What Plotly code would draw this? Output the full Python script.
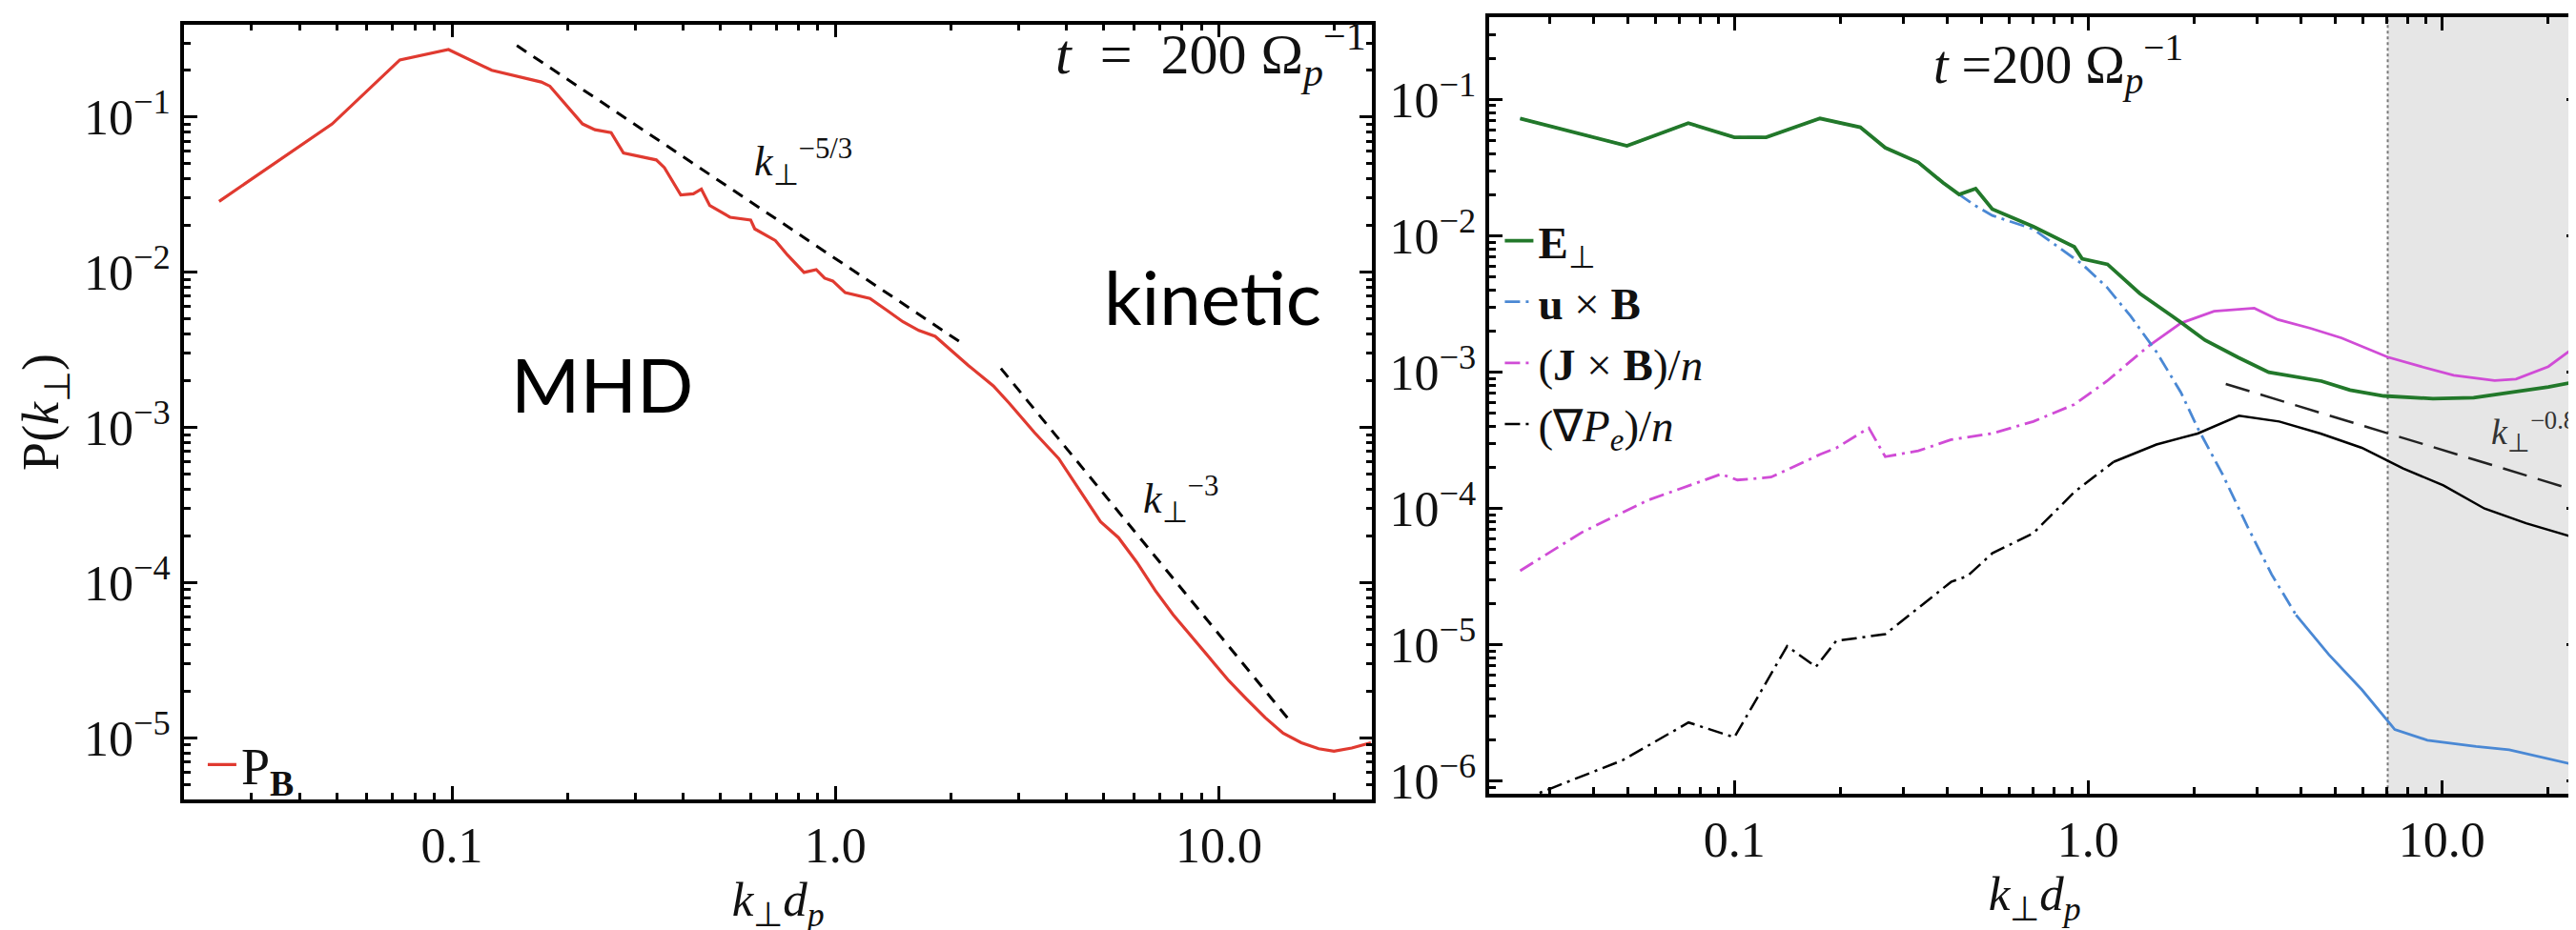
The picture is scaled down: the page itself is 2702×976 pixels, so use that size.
import math
import plotly.graph_objects as go

W, H = 2702, 976

# ---------------- Left panel data ----------------
k_pb = [0.0247, 0.0487, 0.0731, 0.0979, 0.127, 0.171, 0.180, 0.219, 0.236, 0.260, 0.280,
        0.341, 0.358, 0.395, 0.426, 0.447, 0.470, 0.531, 0.601, 0.616, 0.697, 0.750, 0.828,
        0.891, 0.937, 0.984, 1.06, 1.23, 1.36, 1.50, 1.65, 1.82, 2.01, 2.22, 2.58, 2.84,
        3.30, 3.82, 4.91, 5.47, 6.11, 6.82, 7.60, 8.49, 9.47, 10.6, 11.8, 13.2, 14.7,
        16.4, 18.2, 19.95, 22.2, 24.9]
p_pb = [2.86e-2, 9.02e-2, 0.233, 0.272, 0.200, 0.168, 0.158, 9.02e-2, 8.28e-2, 7.93e-2, 5.86e-2,
        5.29e-2, 4.72e-2, 3.15e-2, 3.20e-2, 3.43e-2, 2.69e-2, 2.26e-2, 2.17e-2, 1.90e-2, 1.60e-2,
        1.29e-2, 9.97e-3, 1.04e-2, 9.15e-3, 8.77e-3, 7.38e-3, 6.77e-3, 5.69e-3, 4.79e-3, 4.21e-3,
        3.86e-3, 3.11e-3, 2.51e-3, 1.85e-3, 1.43e-3, 9.29e-4, 6.30e-4, 2.47e-4, 1.95e-4, 1.35e-4,
        8.9e-5, 6.2e-5, 4.47e-5, 3.23e-5, 2.34e-5, 1.78e-5, 1.35e-5, 1.07e-5, 9.3e-6, 8.5e-6,
        8.2e-6, 8.6e-6, 9.3e-6]

k_fit53 = [0.1476, 2.17]
p_fit53 = [0.289, 3.4e-3]
k_fit3 = [2.70, 15.3]
p_fit3 = [2.40e-3, 1.29e-5]

# ---------------- Right panel data ----------------
k_E = [0.0248, 0.0497, 0.0741, 0.100, 0.123, 0.1746, 0.227, 0.267, 0.331, 0.389, 0.432, 0.481,
       0.536, 0.700, 0.914, 0.962, 1.135, 1.40, 1.74, 2.14, 2.66, 3.24, 4.57, 5.5, 6.85, 9.44,
       12.3, 16.2, 20.0, 24.4]
p_E = [0.0726, 0.0457, 0.0670, 0.0528, 0.0528, 0.0726, 0.0625, 0.0443, 0.0346, 0.0245, 0.0201,
       0.0222, 0.0157, 0.0117, 0.0083, 0.0068, 0.00618, 0.00378, 0.00255, 0.00172, 0.00128,
       0.00100, 8.6e-4, 7.4e-4, 6.7e-4, 6.4e-4, 6.5e-4, 7.2e-4, 7.8e-4, 8.6e-4]

k_uB = [0.0248, 0.0497, 0.0741, 0.100, 0.123, 0.1746, 0.227, 0.267, 0.331, 0.389, 0.432, 0.481,
        0.536, 0.700, 0.962, 1.13, 1.32, 1.56, 1.83, 2.04, 2.40, 2.82, 3.30, 3.87, 4.79, 5.94,
        7.36, 9.1, 12.5, 15.5, 19.1, 24.4]
p_uB = [0.0726, 0.0457, 0.0670, 0.0528, 0.0528, 0.0726, 0.0625, 0.0443, 0.0346, 0.0245, 0.0201,
        0.0166, 0.0141, 0.0112, 0.0062, 0.0042, 0.00257, 0.00141, 7.1e-4, 3.9e-4, 1.78e-4, 7.4e-5,
        3.3e-5, 1.66e-5, 8.5e-6, 4.7e-6, 2.4e-6, 2.0e-6, 1.8e-6, 1.7e-6, 1.5e-6, 1.3e-6]

k_JB = [0.0248, 0.0371, 0.0569, 0.0918, 0.102, 0.127, 0.175, 0.194, 0.240, 0.267, 0.331, 0.410,
        0.536, 0.700, 0.914, 1.13, 1.48, 1.83, 2.27, 2.95, 3.44, 4.25, 5.21, 7.03, 8.73, 10.8,
        14.1, 16.2, 20.0, 24.5]
p_JB = [3.5e-5, 6.7e-5, 1.15e-4, 1.79e-4, 1.62e-4, 1.70e-4, 2.5e-4, 2.78e-4, 3.9e-4, 2.4e-4,
        2.65e-4, 3.2e-4, 3.56e-4, 4.35e-4, 5.8e-4, 8.6e-4, 1.55e-3, 2.29e-3, 2.8e-3, 2.95e-3,
        2.43e-3, 2.1e-3, 1.78e-3, 1.29e-3, 1.10e-3, 9.5e-4, 8.7e-4, 8.9e-4, 1.1e-3, 1.62e-3]

k_Pe = [0.0248, 0.0284, 0.0484, 0.0742, 0.100, 0.141, 0.170, 0.194, 0.267, 0.331, 0.410, 0.456,
        0.536, 0.700, 0.914, 1.18, 1.56, 2.04, 2.67, 3.47, 4.54, 5.94, 7.77, 10.1, 13.2, 17.3, 24.4]
p_Pe = [7.2e-7, 8.3e-7, 1.43e-6, 2.7e-6, 2.1e-6, 9.8e-6, 6.9e-6, 1.07e-5, 1.2e-5, 1.86e-5, 2.9e-5,
        3.2e-5, 4.7e-5, 6.6e-5, 1.32e-4, 2.2e-4, 2.95e-4, 3.55e-4, 4.8e-4, 4.35e-4, 3.55e-4,
        2.79e-4, 1.97e-4, 1.48e-4, 1.0e-4, 7.8e-5, 6.0e-5]

k_fit08 = [2.45, 24.5]
p_fit08 = [8.2e-4, 1.33e-4]

k_kinetic_edge = 7.03

x_ticks = [0.1, 1.0, 10.0]
x_ticktext = ["0.1", "1.0", "10.0"]
y_ticks_left = [1e-1, 1e-2, 1e-3, 1e-4, 1e-5]
y_ticks_right = [1e-1, 1e-2, 1e-3, 1e-4, 1e-5, 1e-6]

SERIF = "Liberation Serif"
SANS = "Lato"


def split(k, p, kcut):
    i = max(j for j, v in enumerate(k) if v <= kcut)
    return (k[:i + 1], p[:i + 1]), (k[i:], p[i:])


fig = go.Figure()

# Left panel
fig.add_trace(go.Scatter(x=k_pb, y=p_pb, mode="lines", name="P<sub><b>B</b></sub>",
                         line=dict(color="#e03a30", width=3.2), xaxis="x", yaxis="y",
                         legend="legend"))
fig.add_trace(go.Scatter(x=k_fit53, y=p_fit53, mode="lines", showlegend=False,
                         line=dict(color="black", width=3, dash="12px,9px"), xaxis="x", yaxis="y"))
fig.add_trace(go.Scatter(x=k_fit3, y=p_fit3, mode="lines", showlegend=False,
                         line=dict(color="black", width=3, dash="12px,9px"), xaxis="x", yaxis="y"))

# Right panel
fig.add_trace(go.Scatter(x=k_fit08, y=p_fit08, mode="lines", showlegend=False,
                         line=dict(color="#222222", width=2.5, dash="26px,12px"),
                         xaxis="x2", yaxis="y2"))

dd = "16px,6px,3px,6px"
specs = [
    (k_Pe, p_Pe, 1.18, "black", "(∇<i>P<sub>e</sub></i>)/<i>n</i>", 2.5, 4),
    (k_JB, p_JB, 1.48, "#d04cd6", "(<b>J</b> × <b>B</b>)/<i>n</i>", 2.8, 3),
    (k_uB, p_uB, 3.87, "#4a88d4", "<b>u</b> × <b>B</b>", 2.8, 2),
]
for k, p, kc, col, nm, lw, rank in specs:
    (k1, p1), (k2, p2) = split(k, p, kc)
    fig.add_trace(go.Scatter(x=k1, y=p1, mode="lines", name=nm, legend="legend2",
                             legendrank=rank,
                             line=dict(color=col, width=lw, dash=dd), xaxis="x2", yaxis="y2"))
    fig.add_trace(go.Scatter(x=k2, y=p2, mode="lines", showlegend=False,
                             line=dict(color=col, width=lw), xaxis="x2", yaxis="y2"))

fig.add_trace(go.Scatter(x=k_E, y=p_E, mode="lines", name="<b>E</b><sub>⊥</sub>",
                         legend="legend2", legendrank=1,
                         line=dict(color="#22782a", width=3.8), xaxis="x2", yaxis="y2"))


def sup_labels(vals):
    return ["10<sup>−%d</sup>" % round(-math.log10(v)) for v in vals]


def minor_vals(lo, hi):
    out = []
    for e in range(lo, hi + 1):
        for m in range(2, 10):
            out.append(m * 10.0 ** e)
    return out


axis_common = dict(type="log", showline=True, linecolor="black", linewidth=3.5, mirror="allticks",
                   ticks="inside", tickcolor="black", tickwidth=3, ticklen=14, showgrid=False,
                   zeroline=False, tickfont=dict(family=SERIF, size=52, color="#111"))
minor_common = dict(ticks="inside", ticklen=7, tickwidth=2.5, tickcolor="black")
title_font = dict(family=SERIF, size=51, color="#111")
x_title = "<i>k</i><sub>⊥</sub><i>d</i><sub><i>p</i></sub>"

fig.update_layout(
    width=W, height=H, margin=dict(l=0, r=0, t=0, b=0),
    paper_bgcolor="white", plot_bgcolor="white",
    xaxis=dict(axis_common, domain=[185 / W, 1432 / W], range=[-1.699, 1.400],
               tickvals=x_ticks, ticktext=x_ticktext,
               minor=dict(minor_common, tickvals=minor_vals(-2, 1)),
               title=dict(text=x_title, font=title_font, standoff=2), anchor="y"),
    yaxis=dict(axis_common, domain=[1 - 845 / H, 1 - 18 / H], range=[-5.398, -0.404],
               tickvals=y_ticks_left, ticktext=sup_labels(y_ticks_left),
               minor=dict(minor_common, tickvals=minor_vals(-6, -1)),
               title=dict(text="P(<i>k</i><sub>⊥</sub>)",
                          font=dict(family=SERIF, size=54, color="#111"), standoff=10),
               anchor="x"),
    xaxis2=dict(axis_common, domain=[1555 / W, 2699 / W], range=[-1.692, 1.390],
                tickvals=x_ticks, ticktext=x_ticktext,
                minor=dict(minor_common, tickvals=minor_vals(-2, 1)),
                title=dict(text=x_title, font=title_font, standoff=2), anchor="y2"),
    yaxis2=dict(axis_common, domain=[1 - 839 / H, 1 - 10 / H], range=[-6.093, -0.395],
                tickvals=y_ticks_right, ticktext=sup_labels(y_ticks_right),
                minor=dict(minor_common, tickvals=minor_vals(-7, -1)),
                anchor="x2"),
    legend=dict(x=205 / W, y=1 - 808 / H, xanchor="left", yanchor="middle",
                bgcolor="rgba(0,0,0,0)", font=dict(family=SERIF, size=54, color="#111")),
    legend2=dict(x=1566 / W, y=1 - 211 / H, xanchor="left", yanchor="top",
                 bgcolor="rgba(0,0,0,0)", tracegroupgap=0,
                 font=dict(family=SERIF, size=47, color="#111")),
    showlegend=True,
)

# Kinetic-range shading and its boundary
fig.add_shape(type="rect", xref="x2", yref="y2 domain", x0=k_kinetic_edge, x1=10 ** 1.390,
              y0=0, y1=1, fillcolor="#e6e6e6", line=dict(width=0), layer="below")
fig.add_shape(type="line", xref="x2", yref="y2 domain", x0=k_kinetic_edge, x1=k_kinetic_edge,
              y0=0, y1=1, line=dict(color="#777777", width=2, dash="dot"), layer="below")

NB = "\u00a0"
ann = [
    dict(x=1428 / W, y=1 - 50 / H, xanchor="right", yanchor="middle",
         text="<i>t</i>" + NB * 2 + "=" + NB * 2 + "200" + NB + "Ω<sub><i>p</i></sub><sup>−1</sup>",
         font=dict(family=SERIF, size=60)),
    dict(x=2152 / W, y=1 - 60 / H, xanchor="center", yanchor="middle",
         text="<i>t</i> =200 Ω<sub><i>p</i></sub><sup>−1</sup>", font=dict(family=SERIF, size=56)),
    dict(x=835 / W, y=1 - 165 / H, xanchor="center", yanchor="middle",
         text="<i>k</i><sub>⊥</sub><sup>−5/3</sup>", font=dict(family=SERIF, size=44)),
    dict(x=1231 / W, y=1 - 525 / H, xanchor="center", yanchor="middle",
         text="<i>k</i><sub>⊥</sub><sup>−3</sup>", font=dict(family=SERIF, size=44)),
    dict(x=2650 / W, y=1 - 452 / H, xanchor="center", yanchor="middle",
         text="<i>k</i><sub>⊥</sub><sup>−0.8</sup>", font=dict(family=SERIF, size=38, color="#333")),
    dict(x=624 / W, y=1 - 402 / H, xanchor="center", yanchor="middle",
         text="MHD", font=dict(family=SANS, size=78, color="black")),
    dict(x=1264 / W, y=1 - 308 / H, xanchor="center", yanchor="middle",
         text="kinetic", font=dict(family=SANS, size=78, color="black")),
]
for a in ann:
    a["font"].setdefault("color", "#111")
    fig.add_annotation(xref="paper", yref="paper", showarrow=False, **a)

fig.write_html("out.html")
